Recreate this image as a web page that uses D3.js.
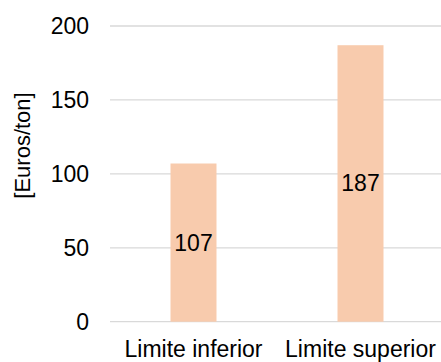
<!DOCTYPE html>
<html>
<head>
<meta charset="utf-8">
<script src="https://cdn.jsdelivr.net/npm/d3@7"></script>
<style>
  html, body { margin: 0; padding: 0; background: #ffffff; }
  svg { display: block; }
  text { font-family: "Liberation Sans", Arial, Helvetica, sans-serif; fill: #000; }
</style>
</head>
<body>
<script>
// Price range, euros per ton
const categories = ["Limite inferior", "Limite superior"];
const values = [107, 187];
const yTicks = [0, 50, 100, 150, 200];
const yTitle = "[Euros/ton]";

const W = 441, H = 362;
const plot = { left: 110, right: 444, top: 26, bottom: 321.7 };

const svg = d3.select("body").append("svg")
  .attr("width", W).attr("height", H);

const x = d3.scaleBand()
  .domain(categories)
  .range([plot.left, plot.right])
  .paddingInner(0.7246)
  .paddingOuter(0.3623);

const y = d3.scaleLinear()
  .domain([0, 200])
  .range([plot.bottom, plot.top]);

// horizontal gridlines
svg.append("g")
  .selectAll("line")
  .data(yTicks)
  .join("line")
  .attr("x1", plot.left).attr("x2", W)
  .attr("y1", d => y(d)).attr("y2", d => y(d))
  .attr("stroke", "#d9d9d9")
  .attr("stroke-width", 1.3);

// y axis tick labels
const yAxis = svg.append("g")
  .attr("transform", `translate(${plot.left},0)`)
  .call(d3.axisLeft(y).tickValues(yTicks).tickSize(0).tickPadding(21));
yAxis.select(".domain").remove();
yAxis.selectAll("text")
  .style("font-size", "23px")
  .attr("fill", "#000");

// bars
svg.append("g")
  .selectAll("rect")
  .data(values)
  .join("rect")
  .attr("x", (d, i) => x(categories[i]))
  .attr("width", x.bandwidth())
  .attr("y", d => y(d))
  .attr("height", d => y(0) - y(d))
  .attr("fill", "#f8cbad");

// value labels, centred inside each bar
svg.append("g")
  .selectAll("text")
  .data(values)
  .join("text")
  .attr("x", (d, i) => x(categories[i]) + x.bandwidth() / 2)
  .attr("y", d => (y(d) + y(0)) / 2)
  .attr("text-anchor", "middle")
  .attr("dominant-baseline", "central")
  .style("font-size", "23px")
  .text(d => d);

// category labels
const xAxis = svg.append("g")
  .attr("transform", `translate(0,${plot.bottom})`)
  .call(d3.axisBottom(x).tickSize(0).tickPadding(19));
xAxis.select(".domain").remove();
xAxis.selectAll("text")
  .style("font-size", "23px")
  .attr("fill", "#000");

// y axis title
svg.append("text")
  .attr("transform", `translate(22,145.5) rotate(-90)`)
  .attr("text-anchor", "middle")
  .attr("dominant-baseline", "central")
  .style("font-size", "22px")
  .text(yTitle);
</script>
</body>
</html>
